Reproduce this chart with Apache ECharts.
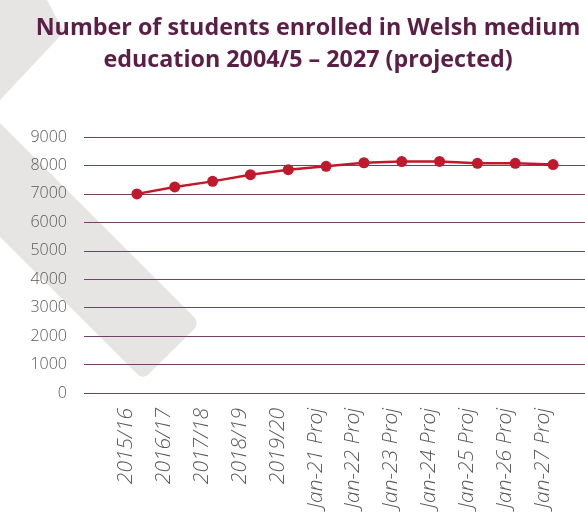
<!DOCTYPE html>
<html><head><meta charset="utf-8">
<script src="https://cdn.jsdelivr.net/npm/echarts@6/dist/echarts.min.js"></script>
<style>html,body{margin:0;padding:0;background:#fff}#c{width:585px;height:518px}</style>
</head><body><div id="c"></div>
<script>
const titleText = 'Number of students enrolled in Welsh medium\neducation 2004/5 \u2013 2027 (projected)';
const categories = ['2015/16','2016/17','2017/18','2018/19','2019/20','Jan-21 Proj','Jan-22 Proj','Jan-23 Proj','Jan-24 Proj','Jan-25 Proj','Jan-26 Proj','Jan-27 Proj'];
const students = [7000, 7245, 7440, 7675, 7850, 7970, 8095, 8135, 8140, 8075, 8075, 8030];
const yMin = 0, yMax = 9000, yStep = 1000;

const chart = echarts.init(document.getElementById('c'), null, {renderer:'canvas'});
chart.setOption({
  backgroundColor:'#fff',
  animation:false,
  graphic:[
    {type:'polygon', z:-10, shape:{points:[[0,0],[47,0],[64,32],[0,100]]}, style:{fill:'#e6e5e4'}},
    {type:'rect', z:-10, x:171.5, y:351.5, rotation:-Math.PI/4,
      shape:{x:-400, y:-40.3, width:400, height:80.6, r:8}, style:{fill:'#e6e5e4'}}
  ],
  title:{
    text:titleText, left:303, top:7, textAlign:'center',
    textStyle:{fontFamily:'Open Sans', fontWeight:700, fontSize:23.3, color:'#5b1f46', lineHeight:32}
  },
  grid:[
    {left:84, right:0, top:137, height:256},
    {left:118, width:454, top:137, height:256}
  ],
  xAxis:[
    {type:'category', gridIndex:0, data:categories, show:false},
    {type:'category', gridIndex:1, data:categories, boundaryGap:true,
      axisLine:{show:false}, axisTick:{show:false},
      axisLabel:{rotate:90, interval:0, margin:15, verticalAlign:'bottom',
        fontFamily:'Open Sans', fontStyle:'italic', fontWeight:300, fontSize:21, color:'#595959'}}
  ],
  yAxis:[
    {type:'value', gridIndex:0, min:yMin, max:yMax, interval:yStep,
      axisLine:{show:false}, axisTick:{show:false},
      axisLabel:{margin:17, formatter:function(v){return String(v);}, fontFamily:'Open Sans', fontWeight:300, fontSize:16, color:'#595959'},
      splitLine:{lineStyle:{color:'#74406a', width:1}}},
    {type:'value', gridIndex:1, min:yMin, max:yMax, interval:yStep, show:false, splitLine:{show:false}}
  ],
  series:[{
    type:'line', xAxisIndex:1, yAxisIndex:1, data:students,
    symbol:'circle', symbolSize:11,
    lineStyle:{color:'#c0192b', width:2.5},
    itemStyle:{color:'#c0192b'}
  }]
});
</script></body></html>
